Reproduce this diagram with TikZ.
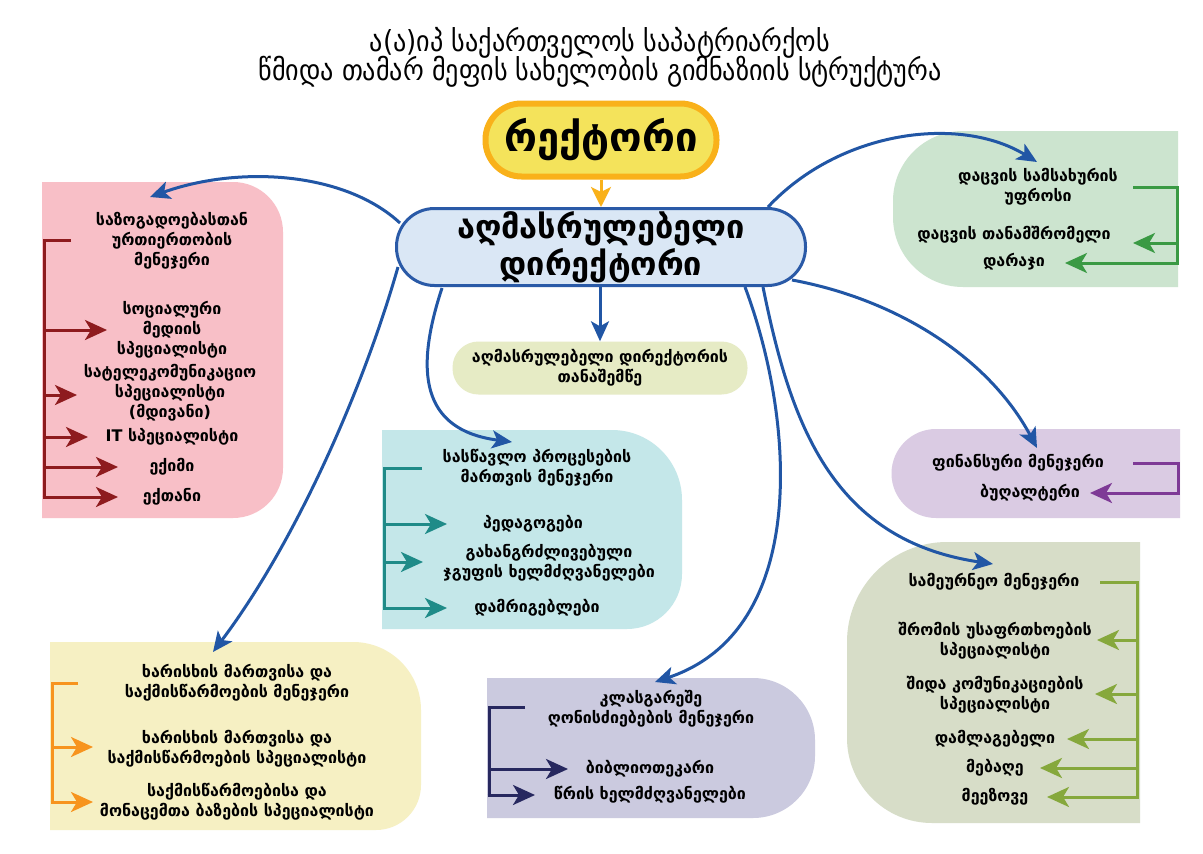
\documentclass[tikz,border=0pt]{standalone}
\usepackage{fontspec}
\setmainfont{DejaVu Sans}
\newfontfamily\gcond{DejaVu Sans Condensed}
\usetikzlibrary{arrows.meta}
\definecolor{cblue}{HTML}{2156A5}
\definecolor{rectF}{HTML}{F4E35B}
\definecolor{rectB}{HTML}{F9B11A}
\definecolor{execF}{HTML}{DAE7F5}
\definecolor{execB}{HTML}{2A5AA7}
\definecolor{asstF}{HTML}{E6EBC5}
\definecolor{pinkF}{HTML}{F8BFC7}
\definecolor{pinkL}{HTML}{8E1B1E}
\definecolor{tealF}{HTML}{C4E7E9}
\definecolor{tealL}{HTML}{1F8B88}
\definecolor{yelF}{HTML}{F6F0C3}
\definecolor{yelL}{HTML}{F7941E}
\definecolor{lavF}{HTML}{CBCADF}
\definecolor{lavL}{HTML}{27285F}
\definecolor{grnF}{HTML}{CCE4CF}
\definecolor{grnL}{HTML}{3A9A44}
\definecolor{purF}{HTML}{DACBE3}
\definecolor{purL}{HTML}{7E3A96}
\definecolor{oliF}{HTML}{D7DDC8}
\definecolor{oliL}{HTML}{86A83C}
\tikzset{
  lbl/.style={align=center, inner sep=0pt, font=\bfseries\fontsize{16}{20}\selectfont},
  conn/.style={line width=3pt, draw=cblue, -{Stealth[length=20pt,width=18pt,inset=5pt]}},
  brk/.style={line width=3pt, line join=miter},
  brka/.style={line width=3pt, -{Stealth[length=22pt,width=20pt,inset=6pt]}},
}
\begin{document}
\begin{tikzpicture}[x=1pt,y=-1pt]
\useasboundingbox (0,0) rectangle (1203,854);
\fill[white] (0,0) rectangle (1203,854);

% title
\node[inner sep=0pt, font=\gcond\fontsize{29}{34}\selectfont] (title1) at (600,43) {ა(ა)იპ საქართველოს საპატრიარქოს};
\node[inner sep=0pt, font=\gcond\fontsize{29}{34}\selectfont] (title2) at (600,72) {წმიდა თამარ მეფის სახელობის გიმნაზიის სტრუქტურა};

% box backgrounds
\fill[pinkF] (42,182) -- (233,182) arc[start angle=-90,end angle=0,radius=50] -- (283,468) arc[start angle=0,end angle=90,radius=50] -- (42,518) -- cycle;
\fill[tealF] (382,430) -- (612,430) arc[start angle=-90,end angle=0,radius=70] -- (682,574) arc[start angle=0,end angle=90,radius=55] -- (382,629) -- cycle;
\fill[yelF] (50,642) -- (353,642) arc[start angle=-90,end angle=0,radius=68] -- (421,785) arc[start angle=0,end angle=90,radius=45] -- (50,830) -- cycle;
\fill[lavF] (487,678) -- (753,678) arc[start angle=-90,end angle=0,radius=62] -- (815,756) arc[start angle=0,end angle=90,radius=62] -- (487,818) -- cycle;
\fill[grnF] (1178,131) -- (963,131) arc[start angle=270,end angle=180,radius=70] -- (893,217) arc[start angle=180,end angle=90,radius=70] -- (1178,287) -- cycle;
\fill[purF] (1180,429) -- (936,429) arc[start angle=270,end angle=90,radius=44.5] -- (1180,518) -- cycle;
\fill[oliF] (1140,542) -- (947,542) arc[start angle=270,end angle=180,radius=100] -- (847,738) arc[start angle=180,end angle=90,radius=85] -- (1140,823) -- cycle;

% main nodes
\node[draw=rectB, line width=6pt, fill=rectF, rounded corners=36pt, minimum width=231pt, minimum height=73pt, inner sep=0pt, font=\bfseries\fontsize{40}{46}\selectfont] (rector) at (601,140) {რექტორი};
\node[draw=execB, line width=3pt, fill=execF, rounded corners=38pt, minimum width=409pt, minimum height=77pt, inner sep=0pt, align=center, font=\bfseries\fontsize{32.5}{37}\selectfont] (exec) at (601,247) {აღმასრულებელი\\დირექტორი};
\node[fill=asstF, rounded corners=26pt, minimum width=295pt, minimum height=53pt, inner sep=0pt, lbl] (asst) at (600,368) {აღმასრულებელი დირექტორის\\თანაშემწე};

% pink texts
\node[lbl] (pinkM) at (172,241) {საზოგადოებასთან\\ურთიერთობის\\მენეჯერი};
\node[lbl] (p1) at (172,330) {სოციალური\\მედიის\\სპეციალისტი};
\node[lbl] (p2) at (170,393) {სატელეკომუნიკაციო\\სპეციალისტი\\(მდივანი)};
\node[lbl] (p3) at (172,437) {IT სპეციალისტი};
\node[lbl] (p4) at (172,467) {ექიმი};
\node[lbl] (p5) at (172,497) {ექთანი};

% green texts
\node[lbl] (gM) at (1038,187) {დაცვის სამსახურის\\უფროსი};
\node[lbl] (g1) at (1014,235) {დაცვის თანამშრომელი};
\node[lbl] (g2) at (1014,262) {დარაჯი};

% teal texts
\node[lbl] (tM) at (537,468) {სასწავლო პროცესების\\მართვის მენეჯერი};
\node[lbl] (t1) at (533,524) {პედაგოგები};
\node[lbl] (t2) at (549,563) {გახანგრძლივებული\\ჯგუფის ხელმძღვანელები};
\node[lbl] (t3) at (537,608) {დამრიგებლები};

% purple texts
\node[lbl] (fM) at (1018,463) {ფინანსური მენეჯერი};
\node[lbl] (f1) at (1030,493) {ბუღალტერი};

% olive texts
\node[lbl] (oM) at (994,582) {სამეურნეო მენეჯერი};
\node[lbl] (o1) at (995,641) {შრომის უსაფრთხოების\\სპეციალისტი};
\node[lbl] (o2) at (995,695) {შიდა კომუნიკაციების\\სპეციალისტი};
\node[lbl] (o3) at (995,739) {დამლაგებელი};
\node[lbl] (o4) at (995,768) {მებაღე};
\node[lbl] (o5) at (995,797) {მეეზოვე};

% yellow texts
\node[lbl] (yM) at (237,683) {ხარისხის მართვისა და\\საქმისწარმოების მენეჯერი};
\node[lbl] (y1) at (237,749) {ხარისხის მართვისა და\\საქმისწარმოების სპეციალისტი};
\node[lbl] (y2) at (237,802) {საქმისწარმოებისა და\\მონაცემთა ბაზების სპეციალისტი};

% lavender texts
\node[lbl] (lM) at (651,709) {კლასგარეშე\\ღონისძიებების მენეჯერი};
\node[lbl] (l1) at (650,769) {ბიბლიოთეკარი};
\node[lbl] (l2) at (650,795) {წრის ხელმძღვანელები};

% main connectors
\draw[line width=3pt, draw=rectB, -{Stealth[length=20pt,width=20pt,inset=5pt]}] (rector.south) -- (exec.north);
\draw[conn] (exec.south -| asst.north) -- (asst.north);
\coordinate (cPinkS) at (400,223);  \coordinate (cPinkE) at (150,197);
\coordinate (cYelS) at (398,267);   \coordinate (cYelE) at (213,652);
\coordinate (cTealS) at (442,288);  \coordinate (cTealE) at (512,442);
\coordinate (cLavS) at (745,287);   \coordinate (cLavE) at (655,682);
\coordinate (cOliS) at (763,287);   \coordinate (cOliE) at (993,564);
\coordinate (cPurS) at (792,280);   \coordinate (cPurE) at (1037,448);
\coordinate (cGrnS) at (768,207);   \coordinate (cGrnE) at (1037,162);
\draw[conn] (cPinkS) .. controls (345,172) and (240,165) .. (cPinkE);
\draw[conn] (cYelS) .. controls (360,400) and (290,550) .. (cYelE);
\draw[conn] (cTealS) .. controls (415,370) and (420,430) .. (cTealE);
\draw[conn] (cLavS) .. controls (795,420) and (810,630) .. (cLavE);
\draw[conn] (cOliS) .. controls (790,420) and (830,540) .. (cOliE);
\draw[conn] (cPurS) .. controls (900,300) and (990,360) .. (cPurE);
\draw[conn] (cGrnS) .. controls (840,130) and (960,115) .. (cGrnE);

% pink bracket
\coordinate (pk0) at (71,240); \coordinate (pkV) at (44,240); \coordinate (pkB) at (44,497);
\draw[brk, pinkL] (pk0) -- (pkV) -- (pkB);
\draw[brka, pinkL] (44,330) -- (107,330);
\draw[brka, pinkL] (44,395) -- (77,395);
\draw[brka, pinkL] (44,437) -- (88,437);
\draw[brka, pinkL] (44,467) -- (118,467);
\draw[brka, pinkL] (42.5,497) -- (118,497);

% green bracket
\draw[brk, grnL] (1133,187) -- (1177,187) -- (1177,263);
\draw[brka, grnL] (1177,243) -- (1133,243);
\draw[brka, grnL] (1178.5,263) -- (1065,263);

% teal bracket
\draw[brk, tealL] (422,468) -- (384,468) -- (384,608);
\draw[brka, tealL] (384,524) -- (447,524);
\draw[brka, tealL] (384,562) -- (423,562);
\draw[brka, tealL] (382.5,608) -- (447,608);

% purple bracket
\draw[brk, purL] (1133,463) -- (1178,463) -- (1178,493);
\draw[brka, purL] (1179.5,493) -- (1090,493);

% olive bracket
\draw[brk, oliL] (1100,582) -- (1137,582) -- (1137,797);
\draw[brka, oliL] (1137,640) -- (1097,640);
\draw[brka, oliL] (1137,694) -- (1095,694);
\draw[brka, oliL] (1137,739) -- (1067,739);
\draw[brka, oliL] (1137,768) -- (1040,768);
\draw[brka, oliL] (1138.5,797) -- (1047,797);

% yellow bracket
\draw[brk, yelL] (78,683) -- (52,683) -- (52,802);
\draw[brka, yelL] (52,747) -- (93,747);
\draw[brka, yelL] (50.5,802) -- (93,802);

% lavender bracket
\draw[brk, lavL] (525,707) -- (489,707) -- (489,795);
\draw[brka, lavL] (489,769) -- (568,769);
\draw[brka, lavL] (487.5,795) -- (535,795);
\end{tikzpicture}
\end{document}
